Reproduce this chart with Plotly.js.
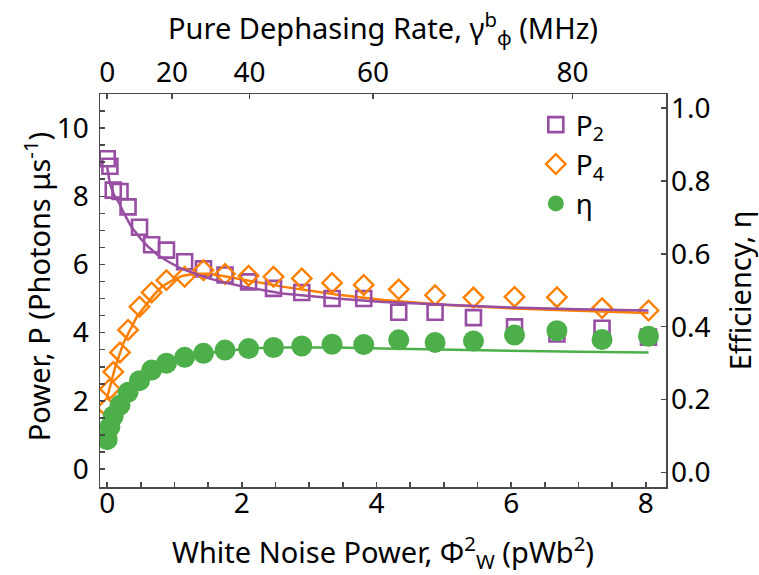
<!DOCTYPE html>
<html>
<head>
<meta charset="utf-8">
<script src="https://cdn.plot.ly/plotly-3.0.1.min.js"></script>
<style>html,body{margin:0;padding:0;background:#fff;}#chart{width:759px;height:575px;}</style>
</head>
<body>
<div id="chart"></div>
<script>
// Measured data (x = white noise power, pWb^2)
const xData = [0, 0.04, 0.09, 0.19, 0.31, 0.48, 0.66, 0.88, 1.15, 1.43, 1.75, 2.10, 2.47, 2.89, 3.34, 3.81, 4.33, 4.87, 5.44, 6.05, 6.68, 7.35, 8.04];
const p2Data = [9.10, 8.88, 8.18, 8.14, 7.69, 7.09, 6.58, 6.42, 6.08, 5.87, 5.69, 5.49, 5.30, 5.18, 5.00, 5.00, 4.60, 4.60, 4.44, 4.17, 3.96, 4.13, 3.87];
const p4Data = [1.80, 2.35, 2.85, 3.42, 4.08, 4.76, 5.18, 5.54, 5.64, 5.83, 5.72, 5.67, 5.64, 5.59, 5.46, 5.40, 5.27, 5.10, 5.03, 5.05, 5.04, 4.72, 4.65];
const etaData = [0.090, 0.125, 0.155, 0.185, 0.220, 0.252, 0.281, 0.300, 0.316, 0.327, 0.336, 0.340, 0.343, 0.347, 0.352, 0.351, 0.364, 0.357, 0.361, 0.377, 0.389, 0.365, 0.374];

// Model curves
const p2FitX = [0, 0.04, 0.10, 0.17, 0.25, 0.36, 0.50, 0.61, 0.75, 0.91, 1.10, 1.30, 1.50, 1.70, 2.10, 2.60, 3.40, 4.10, 5.00, 6.00, 7.00, 8.04];
const p2FitY = [8.85, 8.37, 8.05, 7.83, 7.50, 7.10, 6.75, 6.52, 6.28, 6.08, 5.88, 5.74, 5.60, 5.49, 5.32, 5.15, 5.00, 4.90, 4.82, 4.74, 4.69, 4.65];
const p4FitX = [0, 0.12, 0.24, 0.44, 0.69, 0.81, 0.98, 1.11, 1.30, 1.50, 1.70, 2.10, 2.60, 3.40, 4.10, 5.04, 6.03, 7.00, 8.04];
const p4FitY = [2.10, 3.00, 3.69, 4.47, 5.10, 5.35, 5.55, 5.66, 5.73, 5.73, 5.67, 5.52, 5.35, 5.12, 4.96, 4.81, 4.71, 4.64, 4.58];
const etaFitX = [0, 0.05, 0.10, 0.20, 0.30, 0.50, 0.70, 0.90, 1.20, 1.50, 1.80, 2.10, 2.50, 3.00, 3.40, 4.10, 5.00, 6.00, 7.00, 8.04];
const etaFitY = [0.090, 0.125, 0.158, 0.190, 0.218, 0.256, 0.283, 0.300, 0.317, 0.328, 0.335, 0.340, 0.343, 0.344, 0.343, 0.340, 0.337, 0.334, 0.331, 0.329];

// Top axis (pure dephasing rate) tick labels and their positions on the bottom scale
const topTickText = ['0', '20', '40', '60', '80'];
const topTickPos = [0, 0.964, 2.114, 3.949, 6.911];
const bottomTicks = [0, 2, 4, 6, 8];

const PURPLE = '#984ea3', ORANGE = '#ff7f00', GREEN = '#4daf4a';
const FONT = 'Noto Sans, DejaVu Sans, sans-serif';
const AX = '#4a4a4a';

const traces = [
  // drawn on the top axis (same range as bottom) so that axis is rendered
  {x: p2FitX, y: p2FitY, xaxis: 'x2', mode: 'lines', line: {color: PURPLE, width: 2.5}, showlegend: false, hoverinfo: 'skip'},
  {x: p4FitX, y: p4FitY, mode: 'lines', line: {color: ORANGE, width: 2.5}, showlegend: false, hoverinfo: 'skip'},
  {x: xData, y: p2Data, mode: 'markers', name: 'P<sub>2</sub>',
   marker: {symbol: 'square-open', size: 15, color: PURPLE, line: {color: PURPLE, width: 2.6}}},
  {x: xData, y: p4Data, mode: 'markers', name: 'P<sub>4</sub>',
   marker: {symbol: 'diamond-open', size: 15, color: ORANGE, line: {color: ORANGE, width: 2.4}}},
  {x: etaFitX, y: etaFitY, yaxis: 'y2', mode: 'lines', line: {color: GREEN, width: 2.5}, showlegend: false, hoverinfo: 'skip'},
  {x: xData, y: etaData, yaxis: 'y2', mode: 'markers', name: 'η',
   marker: {symbol: 'circle', size: 21, color: GREEN}}
];

const xr = [-0.107, 8.3];
const layout = {
  width: 759, height: 575,
  margin: {l: 100, r: 93, t: 94, b: 88},
  paper_bgcolor: '#fff', plot_bgcolor: '#fff',
  font: {family: FONT, size: 28, color: '#000'},
  showlegend: true,
  legend: {x: 0.77, y: 0.985, xanchor: 'left', yanchor: 'top', bgcolor: 'rgba(0,0,0,0)',
           font: {family: FONT, size: 28, color: '#000'}, itemsizing: 'trace', tracegroupgap: 0},
  xaxis: {
    range: xr, tickvals: bottomTicks, ticks: 'inside', ticklen: 5, tickwidth: 1.5, tickcolor: AX,
    minor: {dtick: 0.5, ticks: 'inside', ticklen: 5, tickwidth: 1.5, tickcolor: AX},
    showline: true, linecolor: AX, linewidth: 1.5, showgrid: false, zeroline: false,
    ticklabelstandoff: -9,
    title: {text: 'White Noise Power, Φ<sup>2</sup><sub>W</sub> (pWb<sup>2</sup>)', standoff: 26,
            font: {family: FONT, size: 29}}
  },
  xaxis2: {
    overlaying: 'x', side: 'top', range: xr, tickvals: topTickPos, ticktext: topTickText,
    ticks: 'inside', ticklen: 5, tickwidth: 1.5, tickcolor: AX,
    showline: true, linecolor: AX, linewidth: 1.5, showgrid: false, zeroline: false,
    ticklabelstandoff: -1,
    title: {text: 'Pure Dephasing Rate, γ<sup>b</sup><sub>φ</sub> (MHz)', standoff: 4,
            font: {family: FONT, size: 29}}
  },
  yaxis: {
    range: [-0.527, 11.0], dtick: 2, tick0: 0, ticks: 'inside', ticklen: 5, tickwidth: 1.5, tickcolor: AX,
    minor: {dtick: 0.5, ticks: 'inside', ticklen: 5, tickwidth: 1.5, tickcolor: AX},
    showline: true, linecolor: AX, linewidth: 1.5, showgrid: false, zeroline: false,
    ticklabelstandoff: 4
  },
  yaxis2: {
    overlaying: 'y', side: 'right', range: [-0.040, 1.039], dtick: 0.2, tick0: 0, tickformat: '.1f',
    ticks: 'inside', ticklen: 5, tickwidth: 1.5, tickcolor: AX,
    showline: true, linecolor: AX, linewidth: 1.5, showgrid: false, zeroline: false,
    ticklabelstandoff: -2,
    title: {text: 'Efficiency, η', standoff: 24, font: {family: FONT, size: 29}}
  },
  annotations: [{
    text: 'Power, P (Photons μs<sup>-1</sup>)', textangle: -90,
    xref: 'paper', yref: 'paper', x: -0.112, y: 0.51, xanchor: 'center', yanchor: 'middle',
    showarrow: false, font: {family: FONT, size: 29, color: '#000'}
  }]
};

Plotly.newPlot('chart', traces, layout, {displayModeBar: false, staticPlot: true});
</script>
</body>
</html>
